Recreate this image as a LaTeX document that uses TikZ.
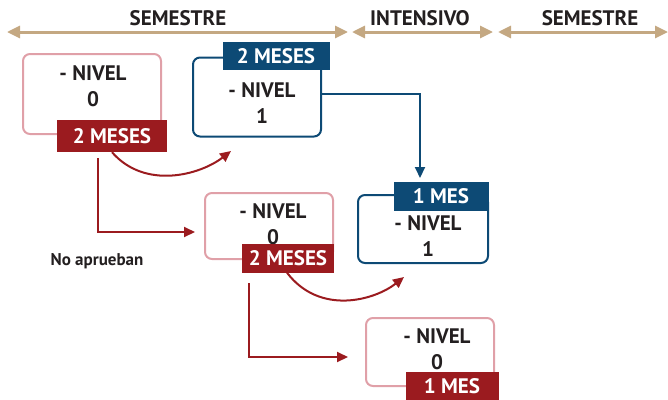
\documentclass[tikz,border=0pt]{standalone}
\usepackage{fontspec}
\setmainfont{PT Sans}
\usetikzlibrary{arrows.meta}
\definecolor{tan}{HTML}{C4A882}
\definecolor{rose}{HTML}{E0A0A8}
\definecolor{wine}{HTML}{9B1B1F}
\definecolor{navy}{HTML}{0D4A75}
\definecolor{ink}{HTML}{231F20}
\tikzset{
  hdr/.style={draw=tan,line width=3pt,{Triangle[length=13pt,width=12pt]}-{Triangle[length=13pt,width=12pt]}},
  hdrtext/.style={text=ink,font=\bfseries\fontsize{21}{22}\selectfont},
  boxr/.style={draw=rose,line width=2pt,rounded corners=7pt,fill=white},
  boxb/.style={draw=navy,line width=2pt,rounded corners=7pt,fill=white},
  nivel/.style={text=ink,align=center,font=\bfseries\fontsize{21}{26}\selectfont},
  labr/.style={fill=wine,text=white,inner sep=0pt,font=\bfseries\fontsize{21}{22}\selectfont},
  labb/.style={fill=navy,text=white,inner sep=0pt,font=\bfseries\fontsize{21}{22}\selectfont},
  arrR/.style={draw=wine,line width=2pt,-{Triangle[length=11pt,width=10pt]}},
  arrB/.style={draw=navy,line width=2pt,-{Triangle[length=11pt,width=10pt]}}
}
\begin{document}
\begin{tikzpicture}[x=1pt,y=-1pt]
\useasboundingbox (0,0) rectangle (668,399);
% header
\coordinate (h0) at (7,32);
\coordinate (h1) at (348,32);
\coordinate (h2) at (352,32);
\coordinate (h3) at (493,32);
\coordinate (h4) at (498,32);
\coordinate (h5) at (668,32);
\draw[hdr] (h0)--(h1);
\draw[hdr] (h2)--(h3);
\draw[hdr] (h4)--(h5);
\node[hdrtext] (sem1) at (178,18) {SEMESTRE};
\node[hdrtext] (inten) at (420,18) {INTENSIVO};
\node[hdrtext] (sem2) at (590,18) {SEMESTRE};
% boxes
\node[boxr,minimum width=138pt,minimum height=80pt] (boxA) at (92,94) {};
\node[nivel] (tA) at (93,86) {- NIVEL\\0};
\node[labr,minimum width=110pt,minimum height=32pt] (labA) at (112,136) {2 MESES};
\node[boxb,minimum width=128pt,minimum height=79pt] (boxB) at (257,97) {};
\node[nivel] (tB) at (262,103) {- NIVEL\\1};
\node[labb,minimum width=107pt,minimum height=28pt] (labB) at (276,56) {2 MESES};
\node[boxr,minimum width=128pt,minimum height=66pt] (boxC) at (269,226) {};
\node[nivel] (tC) at (273,224) {- NIVEL\\0};
\node[labr,minimum width=92pt,minimum height=29pt] (labC) at (288,258) {2 MESES};
\node[boxb,minimum width=130pt,minimum height=68pt] (boxD) at (423,229) {};
\node[nivel] (tD) at (428,236) {- NIVEL\\1};
\node[labb,minimum width=95pt,minimum height=29pt] (labD) at (441,196) {1 MES};
\node[boxr,minimum width=128pt,minimum height=68pt] (boxE) at (430,352) {};
\node[nivel] (tE) at (437,349) {- NIVEL\\0};
\node[labr,minimum width=93pt,minimum height=29pt] (labE) at (452,386) {1 MES};
\node[text=ink,font=\bfseries\fontsize{17}{18}\selectfont] (noap) at (97,261) {No aprueban};
% connectors
\coordinate (a0) at (98,158);
\coordinate (a1) at (195,232);
\coordinate (b1) at (231,151);
\draw[arrR] (labA.south) .. controls (145,190) and (200,175) .. (b1);
\draw[arrR] (a0) |- (a1);
\coordinate (d0) at (420,94);
\coordinate (d1) at (420,178);
\draw[arrB] (boxB.east |- d0) -| (d1);
\coordinate (c0) at (249,283);
\coordinate (c1) at (348,357);
\coordinate (e1) at (404,277);
\draw[arrR] ([xshift=-1pt]labC.south) .. controls (320,316) and (375,300) .. (e1);
\draw[arrR] (c0) |- (c1);
\end{tikzpicture}
\end{document}
